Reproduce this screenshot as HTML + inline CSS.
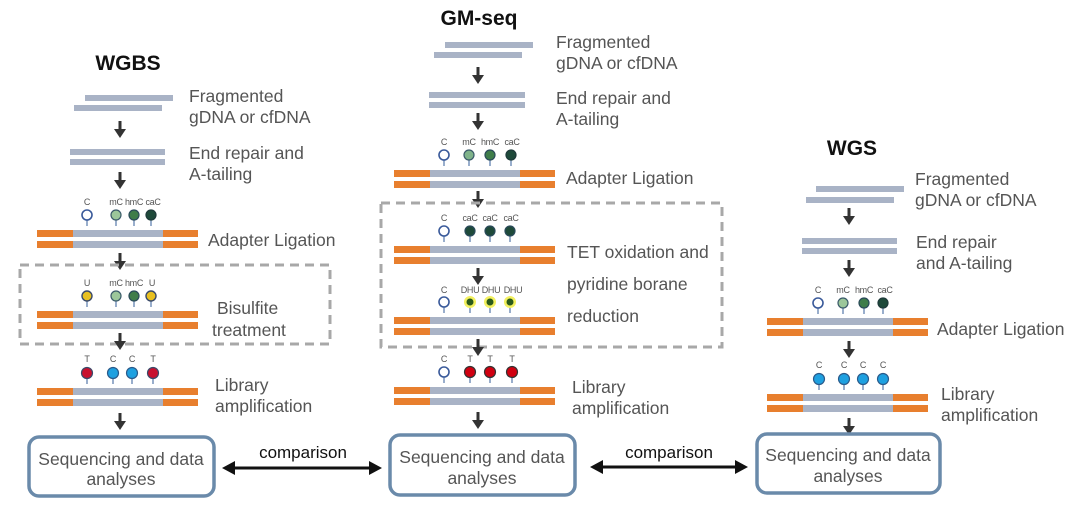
<!DOCTYPE html>
<html><head><meta charset="utf-8"><style>
html,body{margin:0;padding:0;background:#fff;}
svg{display:block;}
text{font-family:"Liberation Sans",sans-serif;}
.t{font-size:17.5px;fill:#555;}
.s{font-size:9px;fill:#555;letter-spacing:-0.3px;}
.h{font-size:21px;font-weight:bold;fill:#111;}
</style></head><body>
<svg width="1080" height="512" viewBox="0 0 1080 512" xmlns="http://www.w3.org/2000/svg">
<defs>
<g id="dx">
<rect x="0" y="0" width="36" height="7" fill="#e87f2e"/>
<rect x="0" y="11" width="36" height="7" fill="#e87f2e"/>
<rect x="36" y="0" width="90" height="7" fill="#a9b3c6"/>
<rect x="36" y="11" width="90" height="7" fill="#a9b3c6"/>
<rect x="126" y="0" width="35" height="7" fill="#e87f2e"/>
<rect x="126" y="11" width="35" height="7" fill="#e87f2e"/>
</g>
<g id="ar"><rect x="-1.5" y="0" width="3" height="10" fill="#333"/><polygon points="-6,8 6,8 0,17" fill="#333"/></g>
<g id="st"><line x1="0" y1="0" x2="0" y2="9" stroke="#5577aa" stroke-width="1.2"/></g>
</defs>

<!-- WGBS -->
<text x="128" y="70" class="h" text-anchor="middle">WGBS</text>
<rect x="85" y="95" width="88" height="6" fill="#a9b3c6"/>
<rect x="74" y="105" width="88" height="6" fill="#a9b3c6"/>
<text x="189" y="102" class="t">Fragmented</text><text x="189" y="123" class="t">gDNA or cfDNA</text>
<use href="#ar" x="120" y="121"/>
<rect x="70" y="149" width="95" height="6" fill="#a9b3c6"/>
<rect x="70" y="159" width="95" height="6" fill="#a9b3c6"/>
<text x="189" y="159" class="t">End repair and</text><text x="189" y="180" class="t">A-tailing</text>
<use href="#ar" x="120" y="172"/>
<g transform="translate(37,230)">
<use href="#dx"/>
<g transform="translate(0,-13)"><use href="#st" x="50"/><use href="#st" x="79"/><use href="#st" x="97"/><use href="#st" x="114"/></g>
<circle cx="50" cy="-15" r="5" fill="#fff" stroke="#3a5a9a" stroke-width="1.6"/>
<circle cx="79" cy="-15" r="5" fill="#9cc79a" stroke="#3a5a6a" stroke-width="1.2"/>
<circle cx="97" cy="-15" r="5" fill="#3f7d4a" stroke="#2a4a5a" stroke-width="1.2"/>
<circle cx="114" cy="-15" r="5" fill="#1e4a3a" stroke="#1e3a3a" stroke-width="1.2"/>
<text x="50" y="-25" class="s" text-anchor="middle">C</text><text x="79" y="-25" class="s" text-anchor="middle">mC</text><text x="97" y="-25" class="s" text-anchor="middle">hmC</text><text x="116" y="-25" class="s" text-anchor="middle">caC</text>
</g>
<text x="208" y="246" class="t">Adapter Ligation</text>
<use href="#ar" x="120" y="253"/>
<rect x="20" y="265" width="310" height="79" fill="none" stroke="#a8a8a8" stroke-width="3" stroke-dasharray="9,6"/>
<g transform="translate(37,311)">
<use href="#dx"/>
<g transform="translate(0,-13)"><use href="#st" x="50"/><use href="#st" x="79"/><use href="#st" x="97"/><use href="#st" x="114"/></g>
<circle cx="50" cy="-15" r="5" fill="#e8c020" stroke="#3a4a6a" stroke-width="1.4"/>
<circle cx="79" cy="-15" r="5" fill="#9cc79a" stroke="#3a5a6a" stroke-width="1.2"/>
<circle cx="97" cy="-15" r="5" fill="#3f7d4a" stroke="#2a4a5a" stroke-width="1.2"/>
<circle cx="114" cy="-15" r="5" fill="#e8c020" stroke="#3a4a6a" stroke-width="1.4"/>
<text x="50" y="-25" class="s" text-anchor="middle">U</text><text x="79" y="-25" class="s" text-anchor="middle">mC</text><text x="97" y="-25" class="s" text-anchor="middle">hmC</text><text x="115" y="-25" class="s" text-anchor="middle">U</text>
</g>
<text x="217" y="314" class="t">Bisulfite</text><text x="212" y="336" class="t">treatment</text>
<use href="#ar" x="120" y="333"/>
<g transform="translate(37,388)">
<use href="#dx"/>
<g transform="translate(0,-13)"><use href="#st" x="50"/><use href="#st" x="76"/><use href="#st" x="95"/><use href="#st" x="116"/></g>
<circle cx="50" cy="-15" r="5.5" fill="#c8102e" stroke="#3a4a6a" stroke-width="1.2"/>
<circle cx="76" cy="-15" r="5.5" fill="#1ea0e0" stroke="#2a5a8a" stroke-width="1.2"/>
<circle cx="95" cy="-15" r="5.5" fill="#1ea0e0" stroke="#2a5a8a" stroke-width="1.2"/>
<circle cx="116" cy="-15" r="5.5" fill="#c8102e" stroke="#3a4a6a" stroke-width="1.2"/>
<text x="50" y="-26" class="s" text-anchor="middle">T</text><text x="76" y="-26" class="s" text-anchor="middle">C</text><text x="95" y="-26" class="s" text-anchor="middle">C</text><text x="116" y="-26" class="s" text-anchor="middle">T</text>
</g>
<text x="215" y="391" class="t">Library</text><text x="215" y="412" class="t">amplification</text>
<use href="#ar" x="120" y="413"/>
<rect x="29" y="437" width="185" height="59" rx="10" fill="#fff" stroke="#6a8aaa" stroke-width="3.5"/>
<text x="121" y="465" class="t" text-anchor="middle">Sequencing and data</text>
<text x="121" y="485" class="t" text-anchor="middle">analyses</text>

<!-- GM-seq -->
<text x="479" y="25" class="h" text-anchor="middle">GM-seq</text>
<rect x="445" y="42" width="88" height="6" fill="#a9b3c6"/>
<rect x="434" y="52" width="88" height="6" fill="#a9b3c6"/>
<text x="556" y="48" class="t">Fragmented</text><text x="556" y="69" class="t">gDNA or cfDNA</text>
<use href="#ar" x="478" y="67"/>
<rect x="429" y="92" width="96" height="6" fill="#a9b3c6"/>
<rect x="429" y="102" width="96" height="6" fill="#a9b3c6"/>
<text x="556" y="104" class="t">End repair and</text><text x="556" y="125" class="t">A-tailing</text>
<use href="#ar" x="478" y="113"/>
<g transform="translate(394,170)">
<use href="#dx"/>
<g transform="translate(0,-13)"><use href="#st" x="50"/><use href="#st" x="75"/><use href="#st" x="96"/><use href="#st" x="117"/></g>
<circle cx="50" cy="-15" r="5" fill="#fff" stroke="#3a5a9a" stroke-width="1.6"/>
<circle cx="75" cy="-15" r="5" fill="#7fb38a" stroke="#3a5a6a" stroke-width="1.2"/>
<circle cx="96" cy="-15" r="5" fill="#3f7d4a" stroke="#2a4a5a" stroke-width="1.2"/>
<circle cx="117" cy="-15" r="5" fill="#1e4a3a" stroke="#1e3a3a" stroke-width="1.2"/>
<text x="50" y="-25" class="s" text-anchor="middle">C</text><text x="75" y="-25" class="s" text-anchor="middle">mC</text><text x="96" y="-25" class="s" text-anchor="middle">hmC</text><text x="118" y="-25" class="s" text-anchor="middle">caC</text>
</g>
<text x="566" y="184" class="t">Adapter Ligation</text>
<use href="#ar" x="478" y="191"/>
<rect x="381" y="203" width="341" height="144" fill="none" stroke="#a8a8a8" stroke-width="3" stroke-dasharray="9,6"/>
<g transform="translate(394,246)">
<use href="#dx"/>
<g transform="translate(0,-13)"><use href="#st" x="50"/><use href="#st" x="76"/><use href="#st" x="96"/><use href="#st" x="116"/></g>
<circle cx="50" cy="-15" r="5" fill="#fff" stroke="#3a5a9a" stroke-width="1.6"/>
<circle cx="76" cy="-15" r="5" fill="#1e4a3a" stroke="#2a4a5a" stroke-width="1.2"/>
<circle cx="96" cy="-15" r="5" fill="#1e4a3a" stroke="#2a4a5a" stroke-width="1.2"/>
<circle cx="116" cy="-15" r="5" fill="#1e4a3a" stroke="#2a4a5a" stroke-width="1.2"/>
<text x="50" y="-25" class="s" text-anchor="middle">C</text><text x="76" y="-25" class="s" text-anchor="middle">caC</text><text x="96" y="-25" class="s" text-anchor="middle">caC</text><text x="117" y="-25" class="s" text-anchor="middle">caC</text>
</g>
<text x="567" y="258" class="t">TET oxidation and</text>
<text x="567" y="290" class="t">pyridine borane</text>
<text x="567" y="322" class="t">reduction</text>
<use href="#ar" x="478" y="268"/>
<g transform="translate(394,317)">
<use href="#dx"/>
<g transform="translate(0,-13)"><use href="#st" x="50"/><use href="#st" x="76"/><use href="#st" x="96"/><use href="#st" x="116"/></g>
<circle cx="50" cy="-15" r="5" fill="#fff" stroke="#3a5a9a" stroke-width="1.6"/>
<circle cx="76" cy="-15" r="6" fill="#f2f060"/><circle cx="76" cy="-15" r="3.5" fill="#2a5a1a"/>
<circle cx="96" cy="-15" r="6" fill="#f2f060"/><circle cx="96" cy="-15" r="3.5" fill="#2a5a1a"/>
<circle cx="116" cy="-15" r="6" fill="#f2f060"/><circle cx="116" cy="-15" r="3.5" fill="#2a5a1a"/>
<text x="50" y="-24" class="s" text-anchor="middle">C</text><text x="76" y="-24" class="s" text-anchor="middle">DHU</text><text x="97" y="-24" class="s" text-anchor="middle">DHU</text><text x="119" y="-24" class="s" text-anchor="middle">DHU</text>
</g>
<use href="#ar" x="478" y="339"/>
<g transform="translate(394,387)">
<use href="#dx"/>
<g transform="translate(0,-13)"><use href="#st" x="50"/><use href="#st" x="76"/><use href="#st" x="96"/><use href="#st" x="118"/></g>
<circle cx="50" cy="-15" r="5" fill="#fff" stroke="#3a5a9a" stroke-width="1.6"/>
<circle cx="76" cy="-15" r="5.5" fill="#d00010" stroke="#333" stroke-width="1.2"/>
<circle cx="96" cy="-15" r="5.5" fill="#d00010" stroke="#333" stroke-width="1.2"/>
<circle cx="118" cy="-15" r="5.5" fill="#d00010" stroke="#333" stroke-width="1.2"/>
<text x="50" y="-25" class="s" text-anchor="middle">C</text><text x="76" y="-25" class="s" text-anchor="middle">T</text><text x="96" y="-25" class="s" text-anchor="middle">T</text><text x="118" y="-25" class="s" text-anchor="middle">T</text>
</g>
<text x="572" y="393" class="t">Library</text><text x="572" y="414" class="t">amplification</text>
<use href="#ar" x="478" y="412"/>
<rect x="390" y="435" width="185" height="60" rx="10" fill="#fff" stroke="#6a8aaa" stroke-width="3.5"/>
<text x="482" y="463" class="t" text-anchor="middle">Sequencing and data</text>
<text x="482" y="484" class="t" text-anchor="middle">analyses</text>

<!-- WGS -->
<text x="852" y="155" class="h" text-anchor="middle">WGS</text>
<rect x="816" y="186" width="88" height="6" fill="#a9b3c6"/>
<rect x="806" y="197" width="88" height="6" fill="#a9b3c6"/>
<text x="915" y="185" class="t">Fragmented</text><text x="915" y="206" class="t">gDNA or cfDNA</text>
<use href="#ar" x="849" y="208"/>
<rect x="802" y="238" width="95" height="6" fill="#a9b3c6"/>
<rect x="802" y="248" width="95" height="6" fill="#a9b3c6"/>
<text x="916" y="248" class="t">End repair</text><text x="916" y="269" class="t">and A-tailing</text>
<use href="#ar" x="849" y="260"/>
<g transform="translate(767,318)">
<use href="#dx"/>
<g transform="translate(0,-13)"><use href="#st" x="51"/><use href="#st" x="76"/><use href="#st" x="97"/><use href="#st" x="116"/></g>
<circle cx="51" cy="-15" r="5" fill="#fff" stroke="#3a5a9a" stroke-width="1.6"/>
<circle cx="76" cy="-15" r="5" fill="#9cc79a" stroke="#3a5a6a" stroke-width="1.2"/>
<circle cx="97" cy="-15" r="5" fill="#3f7d4a" stroke="#2a4a5a" stroke-width="1.2"/>
<circle cx="116" cy="-15" r="5" fill="#1e4a3a" stroke="#1e3a3a" stroke-width="1.2"/>
<text x="51" y="-25" class="s" text-anchor="middle">C</text><text x="76" y="-25" class="s" text-anchor="middle">mC</text><text x="97" y="-25" class="s" text-anchor="middle">hmC</text><text x="118" y="-25" class="s" text-anchor="middle">caC</text>
</g>
<text x="937" y="335" class="t">Adapter Ligation</text>
<use href="#ar" x="849" y="341"/>
<g transform="translate(767,394)">
<use href="#dx"/>
<g transform="translate(0,-13)"><use href="#st" x="52"/><use href="#st" x="77"/><use href="#st" x="96"/><use href="#st" x="116"/></g>
<circle cx="52" cy="-15" r="5.5" fill="#1ea0e0" stroke="#2a5a8a" stroke-width="1.2"/>
<circle cx="77" cy="-15" r="5.5" fill="#1ea0e0" stroke="#2a5a8a" stroke-width="1.2"/>
<circle cx="96" cy="-15" r="5.5" fill="#1ea0e0" stroke="#2a5a8a" stroke-width="1.2"/>
<circle cx="116" cy="-15" r="5.5" fill="#1ea0e0" stroke="#2a5a8a" stroke-width="1.2"/>
<text x="52" y="-26" class="s" text-anchor="middle">C</text><text x="77" y="-26" class="s" text-anchor="middle">C</text><text x="96" y="-26" class="s" text-anchor="middle">C</text><text x="116" y="-26" class="s" text-anchor="middle">C</text>
</g>
<text x="941" y="400" class="t">Library</text><text x="941" y="421" class="t">amplification</text>
<use href="#ar" x="849" y="418"/>
<rect x="757" y="434" width="183" height="59" rx="10" fill="#fff" stroke="#6a8aaa" stroke-width="3.5"/>
<text x="848" y="461" class="t" text-anchor="middle">Sequencing and data</text>
<text x="848" y="482" class="t" text-anchor="middle">analyses</text>

<!-- comparison arrows -->
<line x1="232" y1="468" x2="372" y2="468" stroke="#111" stroke-width="3"/>
<polygon points="222,468 235,461 235,475" fill="#111"/>
<polygon points="382,468 369,461 369,475" fill="#111"/>
<text x="303" y="458" font-size="17" fill="#111" text-anchor="middle">comparison</text>
<line x1="600" y1="467" x2="738" y2="467" stroke="#111" stroke-width="3"/>
<polygon points="590,467 603,460 603,474" fill="#111"/>
<polygon points="748,467 735,460 735,474" fill="#111"/>
<text x="669" y="458" font-size="17" fill="#111" text-anchor="middle">comparison</text>
</svg>
</body></html>
